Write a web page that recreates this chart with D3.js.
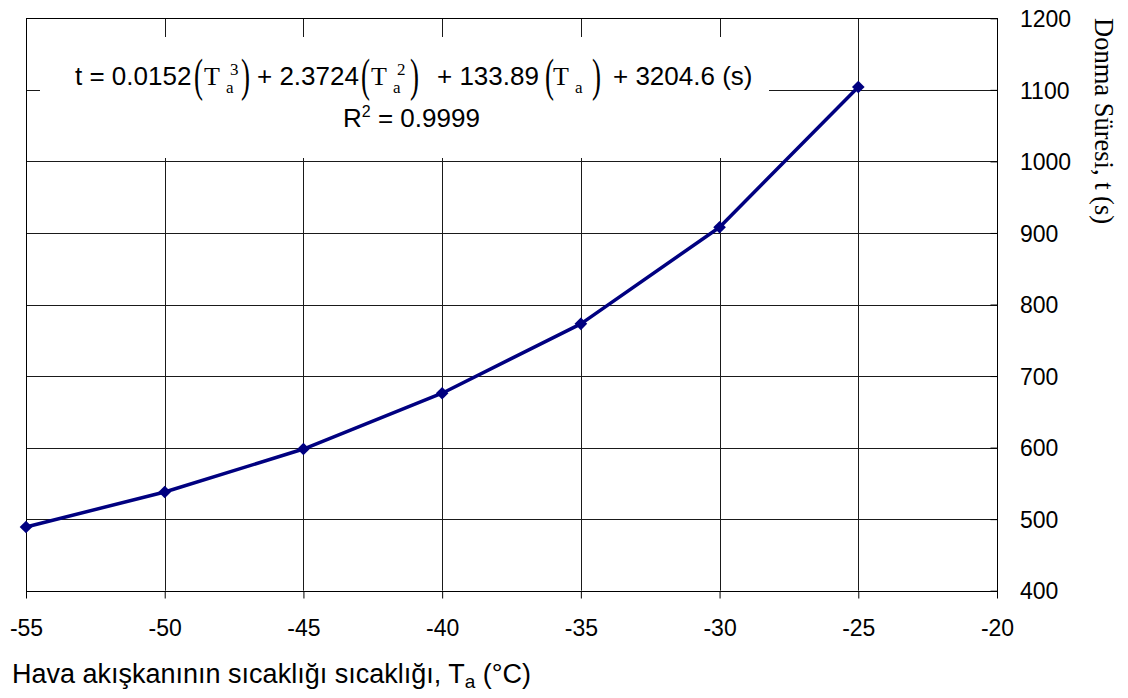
<!DOCTYPE html>
<html><head><meta charset="utf-8">
<script src="https://cdn.jsdelivr.net/npm/d3@7"></script>
<style>html,body{margin:0;padding:0;background:#fff;}</style>
</head><body>
<svg id="chart" width="1128" height="698"></svg>
<script>
const temps = [-55, -50, -45, -40, -35, -30, -25];
const times = [489, 538, 598, 676, 773, 908, 1104];
const xTicks = [-55, -50, -45, -40, -35, -30, -25, -20];
const yTicks = [400, 500, 600, 700, 800, 900, 1000, 1100, 1200];
const xTitle = "Hava akışkanının sıcaklığı sıcaklığı, T";
const yTitle = "Donma Süresi, t (s)";

const svg = d3.select("#chart");
const L = 26, R = 997, T = 18.3, B = 590.7;
const x = d3.scaleLinear().domain([-55, -20]).range([L, R]);
const y = d3.scaleLinear().domain([400, 1200]).range([B, T]);
const sans = "Arial, 'Liberation Sans', sans-serif";
const serif = "'Times New Roman', 'Liberation Serif', serif";

// gridlines
const g = svg.append("g");
g.selectAll(".vg").data(xTicks).join("line")
  .attr("x1", d => Math.round(x(d)) + 0.5).attr("x2", d => Math.round(x(d)) + 0.5)
  .attr("y1", T).attr("y2", B).attr("stroke", "#1a1a1a").attr("stroke-width", 1);
g.selectAll(".hg").data(yTicks).join("line")
  .attr("x1", L).attr("x2", R)
  .attr("y1", d => Math.round(y(d)) + 0.5).attr("y2", d => Math.round(y(d)) + 0.5)
  .attr("stroke", "#1a1a1a").attr("stroke-width", 1);
// border
svg.append("rect").attr("x", Math.round(L) + 0.5).attr("y", Math.round(T) + 0.5)
  .attr("width", Math.round(R) - Math.round(L)).attr("height", Math.round(B) - Math.round(T))
  .attr("fill", "none").attr("stroke", "#000").attr("stroke-width", 1);

// x axis
const xAxis = d3.axisBottom(x).tickValues(xTicks).tickSize(7).tickPadding(21).tickFormat(d => (d < 0 ? "-" : "") + Math.abs(d));
const xa = svg.append("g").attr("transform", `translate(0,${Math.round(B) + 0.5})`).call(xAxis);
xa.select(".domain").remove();
xa.selectAll(".tick line").attr("stroke", "#000");
xa.selectAll(".tick text").attr("font-family", sans).attr("font-size", 23).attr("fill", "#000");

// y axis (right)
const yAxis = d3.axisLeft(y).tickValues(yTicks).tickSize(7).tickPadding(0).tickFormat(d3.format("d"));
const ya = svg.append("g").attr("transform", `translate(${Math.round(R) + 0.5},0)`).call(yAxis);
ya.select(".domain").remove();
ya.selectAll(".tick line").attr("stroke", "#000");
ya.selectAll(".tick text").attr("font-family", sans).attr("font-size", 23).attr("fill", "#000")
  .attr("text-anchor", "start").attr("x", 22.5).attr("dy", "0.36em");

// equation box (white background)
svg.append("rect").attr("x", 40).attr("y", 37).attr("width", 729).attr("height", 121).attr("fill", "#fff");

// line + markers
const line = d3.line().x((d, i) => x(temps[i])).y(d => y(d));
svg.append("path").datum(times).attr("d", line).attr("fill", "none")
  .attr("stroke", "#000080").attr("stroke-width", 3.5).attr("stroke-linejoin", "round");
svg.selectAll(".mk").data(times).join("path")
  .attr("d", d3.symbol(d3.symbolSquare, 80))
  .attr("transform", (d, i) => `translate(${x(temps[i])},${y(d)}) rotate(45)`)
  .attr("fill", "#000080");

// equation text
const eq = svg.append("g").attr("fill", "#000");
const base = 85;
function sansT(xp, s) { eq.append("text").attr("x", xp).attr("y", base).attr("font-family", sans).attr("font-size", 26).attr("xml:space", "preserve").text(s); }
function paren(xp, s) {
  eq.append("text").attr("transform", `translate(${xp},${base + 6}) scale(1,1.75)`)
    .attr("font-family", serif).attr("font-size", 27).text(s);
}
function Tterm(xp, sup) {
  eq.append("text").attr("x", xp).attr("y", base).attr("font-family", serif).attr("font-size", 26).text("T");
  eq.append("text").attr("x", xp + 22).attr("y", base + 8).attr("font-family", serif).attr("font-size", 17).text("a");
  if (sup) eq.append("text").attr("x", xp + 26).attr("y", base - 10).attr("font-family", serif).attr("font-size", 17).text(sup);
}
sansT(75, "t = 0.0152");
paren(194, "("); Tterm(204, "3"); paren(241, ")");
sansT(257, "+ 2.3724");
paren(361, "("); Tterm(371, "2"); paren(410, ")");
sansT(437, "+ 133.89");
paren(545, "("); Tterm(553, null); paren(592, ")");
sansT(613, "+ 3204.6 (s)");
// R^2
const r2 = svg.append("text").attr("x", 343).attr("y", 127).attr("font-family", sans).attr("font-size", 26).attr("fill", "#000");
r2.append("tspan").text("R");
r2.append("tspan").attr("font-size", 16).attr("dy", -10).text("2");
r2.append("tspan").attr("dy", 10).attr("xml:space", "preserve").text(" = 0.9999");

// x title
const xt = svg.append("text").attr("x", 12).attr("y", 683).attr("font-family", sans).attr("font-size", 27).attr("fill", "#000");
xt.append("tspan").text(xTitle);
xt.append("tspan").attr("font-size", 19).attr("dy", 5).text("a");
xt.append("tspan").attr("dy", -5).attr("xml:space", "preserve").text(" (°C)");

// y title
svg.append("text").attr("transform", `translate(1095,18) rotate(90)`)
  .attr("font-family", serif).attr("font-size", 26.5).attr("fill", "#000").text(yTitle);
</script>
</body></html>
